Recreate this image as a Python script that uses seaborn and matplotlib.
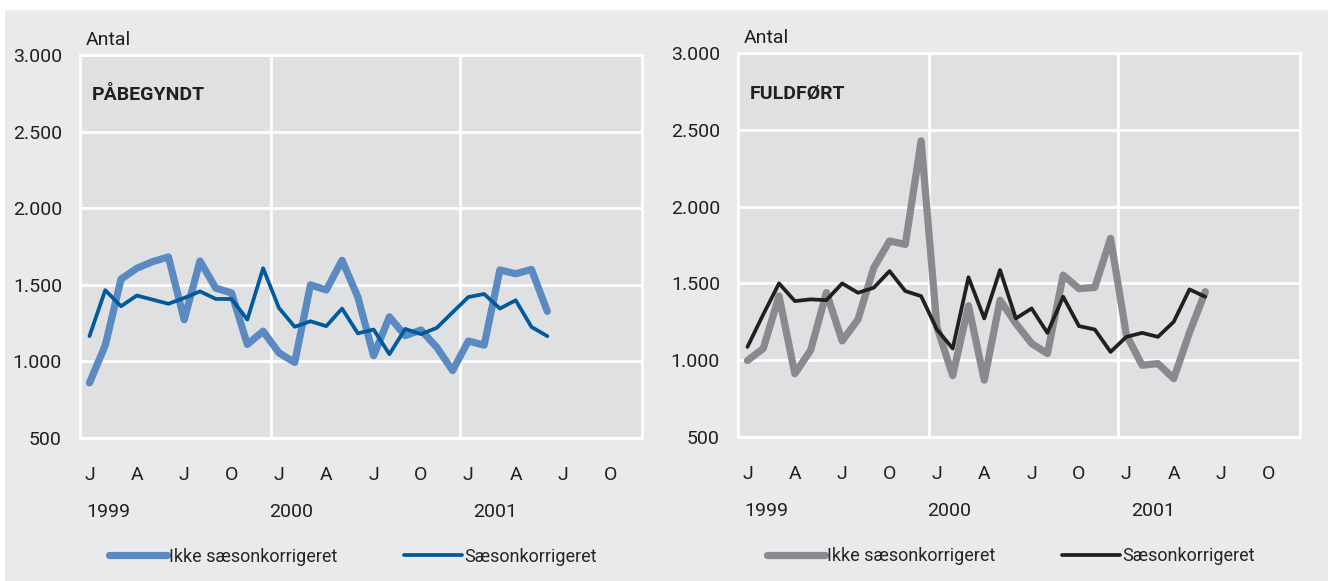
import pandas as pd
import matplotlib.pyplot as plt
import matplotlib.transforms as mtransforms
from matplotlib.patches import Rectangle
import seaborn as sns

# Påbegyndt og fuldført, antal pr. måned, jan 1999 - jun 2001
maaned = list(range(30))
paabeg_ikke = [860, 1105, 1537, 1608, 1651, 1682, 1272, 1655, 1478, 1447, 1111, 1197, 1056, 993, 1500,
               1466, 1660, 1420, 1037, 1291, 1168, 1205, 1092, 940, 1133, 1106, 1597, 1572, 1600, 1327]
paabeg_saeson = [1165, 1465, 1360, 1430, 1403, 1376, 1414, 1457, 1408, 1407, 1273, 1608, 1349, 1226, 1262,
                 1230, 1345, 1183, 1208, 1047, 1212, 1178, 1219, 1320, 1420, 1440, 1345, 1399, 1225, 1165]
fuld_ikke = [998, 1076, 1418, 912, 1065, 1440, 1126, 1265, 1602, 1776, 1754, 2428, 1217, 900, 1355,
             870, 1391, 1239, 1109, 1043, 1554, 1466, 1474, 1793, 1165, 967, 978, 880, 1180, 1446]
fuld_saeson = [1087, 1298, 1500, 1385, 1396, 1391, 1500, 1439, 1472, 1580, 1450, 1417, 1200, 1076, 1540,
               1272, 1587, 1272, 1337, 1178, 1413, 1222, 1200, 1054, 1152, 1178, 1152, 1250, 1461, 1413]

maaned_ticks = list(range(0, 36, 3))
maaned_labels = ['J', 'A', 'J', 'O'] * 3
aar = ['1999', '2000', '2001']
aar_pos = [1.2, 12.8, 25.7]
y_ticks = [500, 1000, 1500, 2000, 2500, 3000]
y_labels = ['500', '1.000', '1.500', '2.000', '2.500', '3.000']

sns.set_style('white')
plt.rcParams['font.family'] = ['Roboto', 'DejaVu Sans']
plt.rcParams['font.size'] = 14

fig = plt.figure(figsize=(13.28, 5.81), dpi=100, facecolor='white')
fig.add_artist(Rectangle((5 / 1328, 0), 1 - 5 / 1328, 1 - 10 / 581, transform=fig.transFigure,
                         facecolor='#e9eaec', edgecolor='none', zorder=-10))

paneler = [
    ([80 / 1328, 143 / 581, 562 / 1328, 383 / 581], 'PÅBEGYNDT', paabeg_ikke, paabeg_saeson, '#5b89c1', '#005a9c'),
    ([738 / 1328, 144 / 581, 562 / 1328, 384 / 581], 'FULDFØRT', fuld_ikke, fuld_saeson, '#898a8d', '#231f20'),
]

for pos, titel, ikke, saeson, farve1, farve2 in paneler:
    ax = fig.add_axes(pos)
    ax.set_facecolor('#dfe0e2')
    df = pd.DataFrame({'maaned': maaned, 'ikke': ikke, 'saeson': saeson})
    sns.lineplot(data=df, x='maaned', y='ikke', ax=ax, color=farve1, linewidth=5.2,
                 solid_capstyle='round', label='Ikke sæsonkorrigeret')
    sns.lineplot(data=df, x='maaned', y='saeson', ax=ax, color=farve2, linewidth=2.7,
                 solid_capstyle='round', label='Sæsonkorrigeret')
    ax.set_xlim(-0.6, 35.0)
    ax.set_ylim(500, 3000)
    ax.set_yticks(y_ticks, y_labels)
    ax.set_xticks(maaned_ticks, maaned_labels)
    ax.tick_params(length=0, labelsize=14, colors='#231f20')
    ax.tick_params(axis='y', pad=13)
    ax.tick_params(axis='x', pad=20)
    ax.set_xlabel('')
    ax.set_ylabel('')
    ax.grid(axis='y', color='white', linewidth=2)
    for xv in [11.5, 23.5]:
        ax.axvline(xv, color='white', linewidth=2, zorder=1)
    ax.set_axisbelow(True)
    for sp in ax.spines.values():
        sp.set_color('white')
        sp.set_linewidth(2)
    ax.text(0.01, 1.015, 'Antal', transform=ax.transAxes, fontsize=14, va='bottom', ha='left', color='#231f20')
    ax.text(0.021, 0.895, titel, transform=ax.transAxes, fontsize=14, fontweight='bold',
            va='center', ha='left', color='#231f20')
    trans = mtransforms.blended_transform_factory(ax.transData, ax.transAxes)
    for a, xp in zip(aar, aar_pos):
        ax.text(xp, -0.192, a, transform=trans, fontsize=14, ha='center', va='center', color='#231f20')
    ax.legend(loc='center left', bbox_to_anchor=(0.052, -0.31), ncol=2, frameon=False,
              handlelength=3.2, handletextpad=0.12, columnspacing=3.7, borderpad=0,
              borderaxespad=0, fontsize=13)

fig.savefig('out.png', dpi=100, facecolor=fig.get_facecolor())
